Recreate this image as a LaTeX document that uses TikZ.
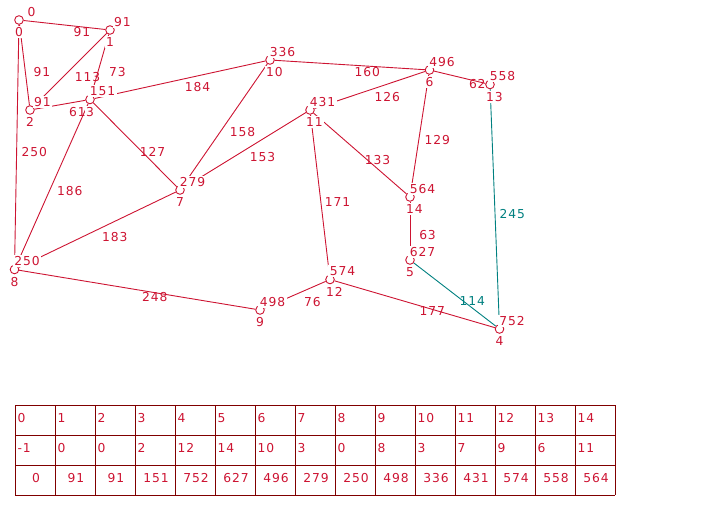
\documentclass[tikz,border=0pt]{standalone}
\usepackage{fontspec}
\newfontfamily\graphfont{DejaVu Sans}[LetterSpace=7]
\newcommand\glbl{\graphfont\fontsize{12.3}{14}\selectfont}
\definecolor{gred}{RGB}{205,20,50}
\definecolor{gteal}{RGB}{0,128,128}
\definecolor{tborder}{RGB}{128,0,0}
\begin{document}
\begin{tikzpicture}[x=1pt,y=-1pt,
  vtx/.style={circle,draw=gred,fill=white,line width=0.9pt,minimum size=8.6pt,inner sep=0pt},
  redge/.style={draw=gred,line width=0.9pt},
  tedge/.style={draw=gteal,line width=0.9pt},
  wt/.style={text=gred,font=\glbl,inner sep=0pt,xshift=17.5pt,yshift=-6.8pt},
  twt/.style={wt,text=gteal},
  val/.style={fill=white,text=gred,font=\glbl,inner sep=1.5pt,anchor=center},
  idx/.style={fill=white,text=gred,font=\glbl,inner sep=1.5pt,anchor=west},
  tab/.style={draw=tborder,line width=1pt},
  tcell/.style={text=gred,font=\glbl,inner sep=0pt}]
\useasboundingbox (0,0) rectangle (714,514);
% vertices
\node[vtx] (v0) at (19,20) {};
\node[vtx] (v1) at (110,30) {};
\node[vtx] (v2) at (30,110) {};
\node[vtx] (v3) at (90,99.5) {};
\node[vtx] (v4) at (499.5,329) {};
\node[vtx] (v5) at (410,260) {};
\node[vtx] (v6) at (429.5,70) {};
\node[vtx] (v7) at (180,190) {};
\node[vtx] (v8) at (14.5,269.5) {};
\node[vtx] (v9) at (260,310) {};
\node[vtx] (v10) at (270,60) {};
\node[vtx] (v11) at (310,110) {};
\node[vtx] (v12) at (330,279.5) {};
\node[vtx] (v13) at (490,84.5) {};
\node[vtx] (v14) at (410,197) {};
% edges
\draw[redge] (v0) -- node[wt] (w01) {91} (v1);
\draw[redge] (v0) -- node[wt] (w02) {91} (v2);
\draw[redge] (v1) -- node[wt] (w12) {113} (v2);
\draw[redge] (v1) -- node[wt] (w13) {73} (v3);
\draw[redge] (v2) -- node[wt] (w23) {61} (v3);
\draw[redge] (v0) -- node[wt] (w08) {250} (v8);
\draw[redge] (v3) -- node[wt] (w38) {186} (v8);
\draw[redge] (v3) -- node[wt] (w37) {127} (v7);
\draw[redge] (v3) -- node[wt] (w310) {184} (v10);
\draw[redge] (v8) -- node[wt] (w87) {183} (v7);
\draw[redge] (v8) -- node[wt] (w89) {248} (v9);
\draw[redge] (v7) -- node[wt] (w710) {158} (v10);
\draw[redge] (v7) -- node[wt] (w711) {153} (v11);
\draw[redge] (v10) -- node[wt] (w106) {160} (v6);
\draw[redge] (v11) -- node[wt] (w116) {126} (v6);
\draw[redge] (v6) -- node[wt] (w613) {62} (v13);
\draw[redge] (v6) -- node[wt] (w614) {129} (v14);
\draw[redge] (v11) -- node[wt] (w1114) {133} (v14);
\draw[redge] (v11) -- node[wt] (w1112) {171} (v12);
\draw[redge] (v14) -- node[wt] (w145) {63} (v5);
\draw[redge] (v9) -- node[wt] (w912) {76} (v12);
\draw[redge] (v12) -- node[wt] (w124) {177} (v4);
\draw[tedge] (v5) -- node[twt] (w54) {114} (v4);
\draw[tedge] (v13) -- node[twt] (w134) {245} (v4);
% vertex labels
\foreach \n/\d in {0/0,1/91,2/91,3/151,4/752,5/627,6/496,7/279,8/250,9/498,10/336,11/431,12/574,13/558,14/564}{
  \node[val] (d\n) at ([shift={(12.5,-8.2)}]v\n) {\d};
  \node[idx] (i\n) at ([shift={(-5.5,12.3)}]v\n) {\n};
}
% table
\foreach \i in {0,...,15} \draw[tab] (15+40*\i,405) -- (15+40*\i,495);
\foreach \j in {0,...,3} \draw[tab] (15,405+30*\j) -- (615,405+30*\j);
\foreach \v [count=\i from 0] in {0,1,2,3,4,5,6,7,8,9,10,11,12,13,14}
  \node[tcell,anchor=west] (ra\i) at (17.5+40*\i,418) {\v};
\foreach \v [count=\i from 0] in {-1,0,0,2,12,14,10,3,0,8,3,7,9,6,11}
  \node[tcell,anchor=west] (rb\i) at (17.5+40*\i,448) {\v};
\foreach \v [count=\i from 0] in {0,91,91,151,752,627,496,279,250,498,336,431,574,558,564}
  \node[tcell,anchor=center] (rc\i) at (36+40*\i,478) {\v};
\end{tikzpicture}
\end{document}
